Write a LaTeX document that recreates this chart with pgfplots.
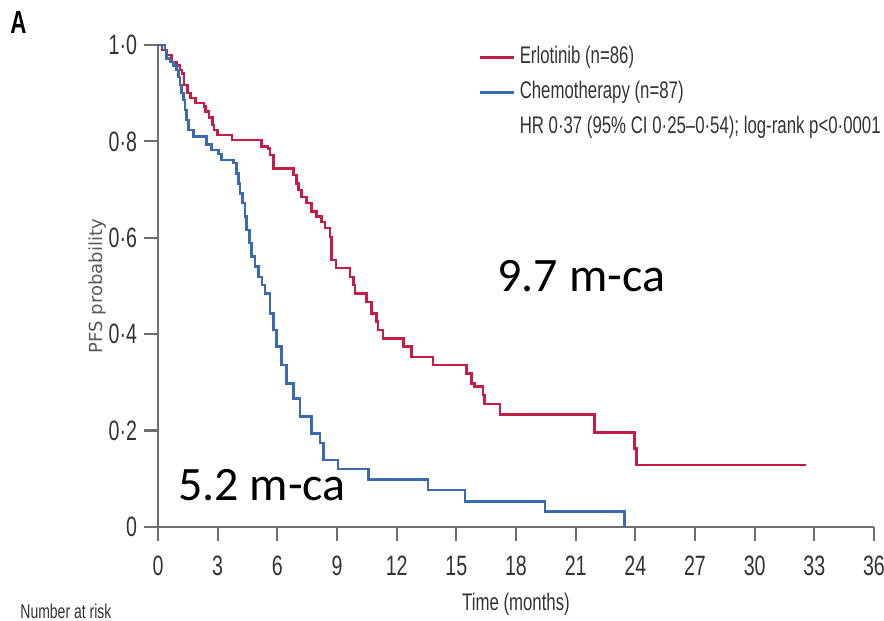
\documentclass[border=0pt]{standalone}
\usepackage{fontspec}
\setmainfont{Liberation Sans}
\newfontfamily\cond[FakeStretch=0.7]{Liberation Sans}
\newfontfamily\calib{Carlito}
\newfontfamily\dejavu{DejaVu Sans}
\usepackage{pgfplots}
\pgfplotsset{compat=1.18}

\definecolor{erl}{RGB}{196,30,72}
\definecolor{chemo}{RGB}{58,106,178}
\definecolor{axisgray}{RGB}{110,110,110}

\begin{document}
\begin{tikzpicture}
% page = 884x621 px at 0.5pt per px
\path[use as bounding box] (0,0) rectangle (442pt,310.5pt);

\node[anchor=north west, inner sep=0pt, font=\cond\bfseries\fontsize{16}{18}\selectfont] at (5pt,305pt) {A};

\begin{axis}[
    at={(79pt,47pt)}, anchor=south west,
    scale only axis, width=358pt, height=241pt,
    xmin=0, xmax=36, ymin=0, ymax=1,
    axis x line*=bottom, axis y line*=left,
    axis line style={axisgray, line width=1.3pt},
    tick align=outside, major tick length=7pt,
    tick style={axisgray, line width=1.1pt},
    xtick={0,3,...,36},
    xticklabels={0,3,6,9,12,15,18,21,24,27,30,33,36},
    ytick={0,0.2,0.4,0.6,0.8,1},
    yticklabels={0,0·2,0·4,0·6,0·8,1·0},
    ticklabel style={font=\cond\fontsize{14}{16}\selectfont, text=black!80},
    xticklabel style={yshift=-4pt},
    xlabel={Time (months)},
    xlabel style={at={(axis description cs:0.5,-0.16)}, anchor=center,
        font=\cond\fontsize{12}{14}\selectfont, text=black!80},
    ylabel={PFS probability},
    ylabel style={at={(axis description cs:-0.085,0.5)}, anchor=center,
        font=\dejavu\fontsize{9}{11}\selectfont, text=black!65},
    clip=false,
    legend cell align=left,
    legend image code/.code={\draw[#1] (0pt,0pt) -- (17pt,0pt);},
    legend style={at={(axis description cs:0.448,1.0)}, anchor=north west,
        draw=none, fill=none, inner sep=0pt,
        font=\cond\fontsize{12}{14}\selectfont, text=black!80,
        row sep=5.5pt,
        nodes={inner xsep=2pt, inner ysep=0pt, text height=9pt, text depth=3pt}},
]

% Erlotinib
\addplot[const plot, color=erl, line width=1.3pt] coordinates {
    (0,1) (0.2,0.99) (0.44,0.979) (0.69,0.965) (0.94,0.958) (1.1,0.948)
    (1.2,0.941) (1.3,0.917) (1.47,0.90) (1.64,0.89) (1.89,0.88) (2.31,0.872)
    (2.4,0.862) (2.56,0.849) (2.73,0.834) (2.81,0.824) (2.98,0.813) (3.73,0.803)
    (5.21,0.789) (5.54,0.785) (5.63,0.772) (5.8,0.744) (6.8,0.730) (6.97,0.713)
    (7.05,0.699) (7.22,0.685) (7.47,0.672) (7.73,0.654) (7.98,0.644) (8.23,0.633)
    (8.4,0.620) (8.65,0.602) (8.73,0.554) (8.95,0.537) (9.65,0.519) (9.82,0.502)
    (9.9,0.485) (10.49,0.467) (10.74,0.443) (10.99,0.426) (11.07,0.409)
    (11.32,0.391) (12.33,0.374) (12.75,0.353) (13.83,0.336) (15.51,0.319)
    (15.76,0.298) (15.9,0.291) (16.35,0.274) (16.43,0.255) (17.19,0.234)
    (21.96,0.196) (23.97,0.163) (24.05,0.129) (32.6,0.129)
};
\addlegendentry{Erlotinib (n=86)}

% Chemotherapy
\addplot[const plot, color=chemo, line width=1.3pt] coordinates {
    (0,1) (0.35,0.99) (0.44,0.972) (0.6,0.965) (0.77,0.958) (0.94,0.948)
    (1.02,0.934) (1.1,0.917) (1.19,0.90) (1.27,0.886) (1.36,0.865) (1.44,0.844)
    (1.52,0.824) (1.77,0.81) (2.45,0.793) (2.7,0.782) (3.03,0.774) (3.2,0.761)
    (3.79,0.755) (3.95,0.734) (4.04,0.713) (4.12,0.692) (4.26,0.672) (4.37,0.644)
    (4.46,0.616) (4.59,0.589) (4.71,0.561) (4.87,0.540) (5.04,0.519) (5.22,0.502)
    (5.38,0.485) (5.63,0.443) (5.8,0.409) (5.96,0.374) (6.22,0.336) (6.47,0.298)
    (6.8,0.267) (7.14,0.229) (7.72,0.194) (8.14,0.174) (8.31,0.139) (9.06,0.12)
    (10.57,0.098) (13.58,0.077) (15.43,0.053) (19.45,0.032) (23.47,0.0)
};
\addlegendentry{Chemotherapy (n=87)}

\addlegendimage{empty legend}
\addlegendentry{HR 0·37 (95\% CI 0·25–0·54); log-rank p<0·0001}

\node[anchor=base west, inner sep=0pt, font=\calib\fontsize{24}{28}\selectfont]
    at (axis cs:17.05,0.488) {9.7 m-ca};
\node[anchor=base west, inner sep=0pt, font=\calib\fontsize{24}{28}\selectfont]
    at (axis cs:1.0,0.056) {5.2 m-ca};
\end{axis}

\node[anchor=south west, inner sep=0pt, font=\cond\fontsize{10}{12}\selectfont, text=black!80]
    at (10pt,1pt) {Number at risk};
\end{tikzpicture}
\end{document}
